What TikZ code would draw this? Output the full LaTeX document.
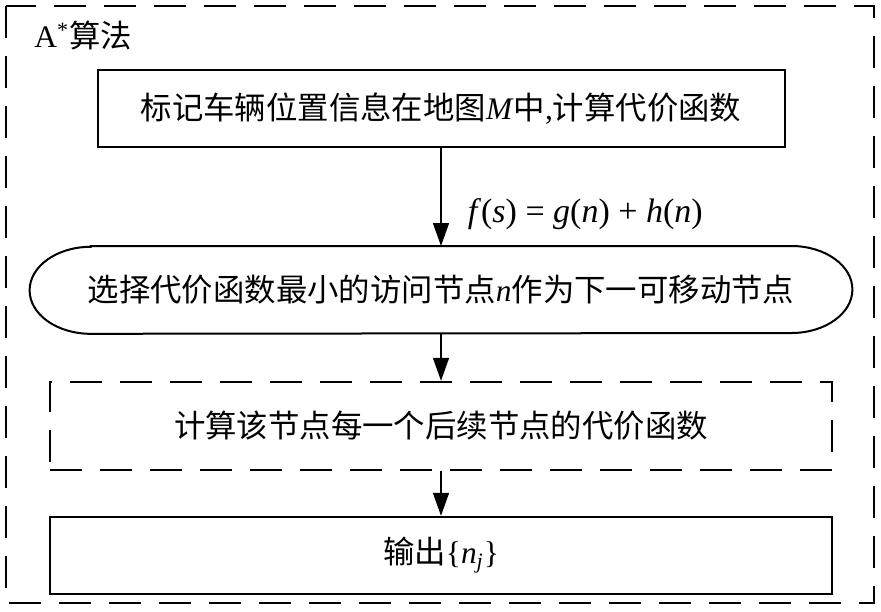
\documentclass[tikz,border=0pt]{standalone}
\usepackage{fontspec}
\setmainfont{Liberation Serif}
\newfontfamily\cjk{Noto Sans CJK SC}
\usepackage{tikz}
\usetikzlibrary{positioning}
\usetikzlibrary{arrows.meta}

\begin{document}
\begin{tikzpicture}[
x = 0.5pt, y = -0.5pt,
every node/.style = {font = \fontsize{15.7}{18}\selectfont, inner sep = 0pt},
  box/.style = {draw, line width = 1pt, minimum width = 391pt, minimum height = 38.5pt},
  dashbox/.style = {box, dash pattern = on 16pt off 9pt, minimum height = 44pt},
  arrow/.style = {-{Triangle[length = 11.5pt, width = 8pt]}, line width = 0.8pt}
]
\useasboundingbox (0,0) rectangle (881,611);
\draw[line width = 1pt, dash pattern = on 16pt off 9pt] (6,6) rectangle (874,603);
\node[anchor = west] (title) at (34,36) {A\textsuperscript{*}{\cjk 算法}};

\node[box, minimum width = 343.5pt] (mark) at (441,108.5)
    {{\cjk 标记车辆位置信息在地图}\textit{M}{\cjk 中},{\cjk 计算代价函数}};
\node[minimum width = 411pt, minimum height = 43.5pt, below = 49pt of mark] (select)
    {{\cjk 选择代价函数最小的访问节点}\textit{n}{\cjk 作为下一可移动节点}};
\draw[line width = 1pt] ([xshift = 30.5pt]select.north west) -- ([xshift = -30.5pt]select.north east)
    arc[start angle = 90, end angle = -90, x radius = 30.5pt, y radius = 21.75pt]
    -- ([xshift = 30.5pt]select.south west)
    arc[start angle = 270, end angle = 90, x radius = 30.5pt, y radius = 21.75pt] -- cycle;
\node[dashbox, below = 23.5pt of select] (cost) {\cjk 计算该节点每一个后续节点的代价函数};
\node[box, below = 22.5pt of cost] (output) {{\cjk 输出}\{\textit{n}\textsubscript{\textit{j}}\}};

\draw[arrow] (mark) -- node[pos = 0.67, anchor = west, xshift = 13pt, font = \fontsize{17}{20}\selectfont]
    {\textit{f}(\textit{s}) = \textit{g}(\textit{n}) + \textit{h}(\textit{n})} (select);
\draw[arrow] (select) -- (cost);
\draw[arrow] (cost) -- (output);
\end{tikzpicture}
\end{document}
